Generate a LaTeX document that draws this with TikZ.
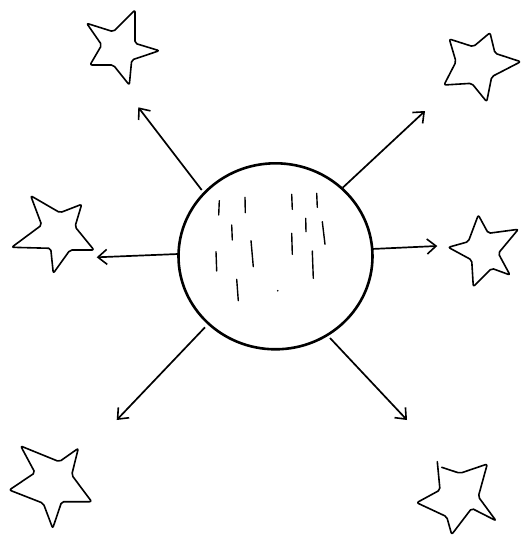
\documentclass[tikz,border=0pt]{standalone}
\usetikzlibrary{arrows.meta,shapes.geometric}
\begin{document}
\begin{tikzpicture}[x=1pt,y=-1pt,
  sun/.style={draw,ellipse,line width=2.6pt,minimum width=194pt,minimum height=186pt,inner sep=0pt},
  ray/.style={line width=1.7pt,-{Straight Barb[length=9pt,width=15pt,line width=1.6pt]}},
  starline/.style={line width=1.6pt,rounded corners=2pt,line join=round,line cap=round},
  hatch/.style={line width=1.4pt,line cap=round}]
\useasboundingbox (0,0) rectangle (522,536);
\node[sun] (sun) at (275.5,256.3) {};
% hatch marks
\foreach \a/\b in {{219.3,200.7}/{218.7,215},{245,197.3}/{245.3,212.7},{291.7,194.3}/{292.3,209.3},{316.7,193.3}/{317.3,207.3},{231.7,225}/{232.3,240},{305.7,218.3}/{306,231.7},{322.3,221.7}/{325,244.3},{251,240.7}/{253.3,266.7},{291.7,233.3}/{292.3,254.3},{216,251.7}/{216.7,271},{312.3,251}/{313.3,278.3},{236.7,279.3}/{238.3,300.7}}
  \draw[hatch] (\a) -- (\b);
\fill (277.7,290.7) circle (0.9pt);
% arrow anchors
\coordinate (s1) at (201.7,190);   \coordinate (e1) at (138.3,107.3);
\coordinate (s2) at (342.7,187.7); \coordinate (e2) at (425,111);
\coordinate (s3) at (178.3,254);   \coordinate (e3) at (96.7,257.3);
\coordinate (s4) at (371.7,249);   \coordinate (e4) at (437.3,246);
\coordinate (s5) at (205,327.3);   \coordinate (e5) at (116.7,420);
\coordinate (s6) at (330,338);     \coordinate (e6) at (407,420);
\foreach \i in {1,...,6} \draw[ray] (s\i) -- (e\i);
% stars
\draw[starline] (86.7,23.3) -- (113.3,31.7) -- (135,10) -- (135,43.3) -- (159.3,50.7) -- (131.7,60) -- (129.3,85) -- (113.3,65) -- (90,65) -- (101.7,45) -- cycle;
\draw[starline] (449.3,39) -- (473.3,46.7) -- (490,32.7) -- (495,53.3) -- (520.7,61.7) -- (491.7,76.7) -- (486.7,101.7) -- (471.7,83.3) -- (444,85) -- (456,61.7) -- cycle;
\draw[starline] (30.7,195.7) -- (60,212.7) -- (81.7,204.3) -- (75,226.7) -- (94,250) -- (70,250) -- (53.3,273.3) -- (50.7,248.3) -- (11.7,247.3) -- (41.7,225) -- cycle;
\draw[starline] (478.3,215) -- (488.3,233.3) -- (518.3,229.3) -- (498.3,253.3) -- (510,275) -- (491.7,268.3) -- (473.3,286.7) -- (471.7,260) -- (448.3,247.3) -- (468.3,241.7) -- cycle;
\draw[starline] (20.7,446) -- (59.3,461.7) -- (78.3,448.3) -- (71.7,475) -- (91.7,501.7) -- (61.7,501.7) -- (52.7,528.3) -- (43.3,503.3) -- (9.3,490) -- (35,472.7) -- cycle;
\draw[starline] (437.3,461.7) -- (440,490) -- (416.7,502.7) -- (446.7,516.7) -- (451.7,534.5) -- (471.7,508.3) -- (496,520.7) -- (478.3,496.7) -- (487.3,464) -- (460,473.3) -- (441.7,467.3);
\end{tikzpicture}
\end{document}
